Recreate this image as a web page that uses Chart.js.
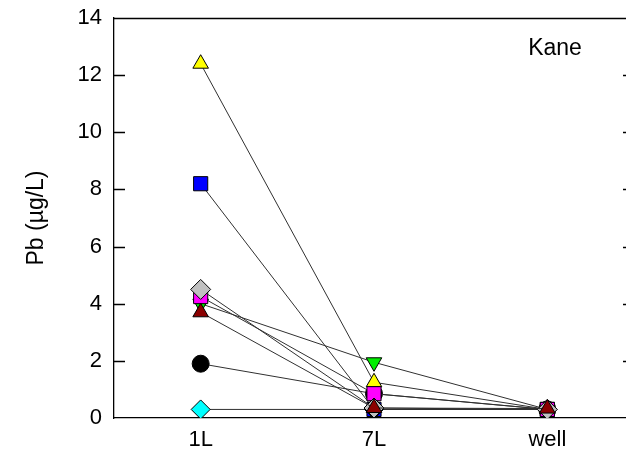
<!DOCTYPE html>
<html>
<head>
<meta charset="utf-8">
<script src="https://cdn.jsdelivr.net/npm/chart.js@4.4.1/dist/chart.umd.min.js"></script>
<style>
  html, body { margin: 0; padding: 0; background: #fff; overflow: hidden; }
  #wrap { position: relative; width: 646px; height: 461px; }
</style>
</head>
<body>
<div id="wrap"><canvas id="c" width="646" height="461"></canvas></div>
<script>
const categories = ["1L", "7L", "well"];
const yTicks = [0, 2, 4, 6, 8, 10, 12, 14];
const yellowTri = [12.4, 1.25, 0.3];
const blueSquare = [8.2, 0.3, 0.3];
const grayDiamond = [4.5, 0.35, 0.3];
const magentaSquare = [4.25, 0.85, 0.3];
const greenDownTri = [4.0, 1.95, 0.3];
const darkRedTri = [3.7, 0.35, 0.33];
const blackCircle = [1.9, 0.85, 0.3];
const cyanDiamond = [0.3, 0.3, 0.3];
const panelLabel = "Kane";

const FONT = "'Liberation Sans', Arial, sans-serif";

function ds(data, color, style, radius, rotation, order) {
  return {
    data: data,
    borderColor: '#303030',
    borderWidth: 1,
    pointStyle: style,
    pointRadius: radius,
    pointRotation: rotation || 0,
    pointBackgroundColor: color,
    pointBorderColor: '#000',
    pointBorderWidth: 1,
    pointHoverRadius: radius,
    tension: 0,
    fill: false,
    order: order
  };
}

const framePlugin = {
  id: 'frame',
  afterDraw(chart) {
    const ctx = chart.ctx;
    const a = chart.chartArea;
    const y = chart.scales.y;
    ctx.save();
    ctx.strokeStyle = '#000';
    ctx.lineWidth = 1.3;
    ctx.beginPath();
    ctx.moveTo(a.left, a.top + 0.5);
    ctx.lineTo(a.right, a.top + 0.5);
    ctx.moveTo(a.right, a.top);
    ctx.lineTo(a.right, a.bottom);
    yTicks.forEach(v => {
      if (v === 0 || v === 14) return;
      const py = Math.round(y.getPixelForValue(v)) + 0.5;
      ctx.moveTo(a.left, py);
      ctx.lineTo(a.left + 11, py);
      ctx.moveTo(a.right, py);
      ctx.lineTo(a.right - 11, py);
    });
    ctx.stroke();
    ctx.fillStyle = '#000';
    ctx.font = '23px ' + FONT;
    ctx.textAlign = 'center';
    ctx.textBaseline = 'middle';
    ctx.fillText(panelLabel, a.left + 441, a.top + 31);
    ctx.restore();
  }
};

new Chart(document.getElementById('c'), {
  type: 'line',
  data: {
    labels: categories,
    datasets: [
      ds(darkRedTri, '#8b0000', 'triangle', 9, 0, 1),
      ds(grayDiamond, '#c0c0c0', 'rectRot', 10, 0, 2),
      ds(magentaSquare, '#ff00ff', 'rect', 10, 0, 3),
      ds(yellowTri, '#ffff00', 'triangle', 9, 0, 4),
      ds(greenDownTri, '#00ee00', 'triangle', 9, 180, 5),
      ds(blackCircle, '#000000', 'circle', 8.5, 0, 6),
      ds(blueSquare, '#0000ff', 'rect', 10, 0, 8),
      ds(cyanDiamond, '#00ffff', 'rectRot', 9.5, 0, 7)
    ]
  },
  options: {
    responsive: false,
    animation: false,
    devicePixelRatio: 1,
    layout: { padding: { left: 0, right: 12, top: 18, bottom: 0 } },
    plugins: { legend: { display: false }, tooltip: { enabled: false } },
    scales: {
      x: {
        type: 'category',
        offset: true,
        grid: { display: false, drawTicks: false },
        border: { display: true, color: '#000', width: 1.3 },
        ticks: { color: '#000', font: { family: FONT, size: 22 }, padding: 9 },
        afterFit(s) { s.height = 43; s.paddingLeft = 0; s.paddingRight = 0; }
      },
      y: {
        min: 0, max: 14,
        afterBuildTicks(s) { s.ticks = yTicks.map(v => ({ value: v })); },
        grid: { display: false, drawTicks: false },
        border: { display: true, color: '#000', width: 1.3 },
        ticks: { color: '#000', font: { family: FONT, size: 22 }, padding: 12 },
        title: { display: true, text: 'Pb (µg/L)', color: '#000', font: { family: FONT, size: 23 }, padding: { top: 23, bottom: 0 } },
        afterFit(s) { s.width = 114; s.paddingTop = 0; s.paddingBottom = 0; }
      }
    }
  },
  plugins: [framePlugin]
});
</script>
</body>
</html>
